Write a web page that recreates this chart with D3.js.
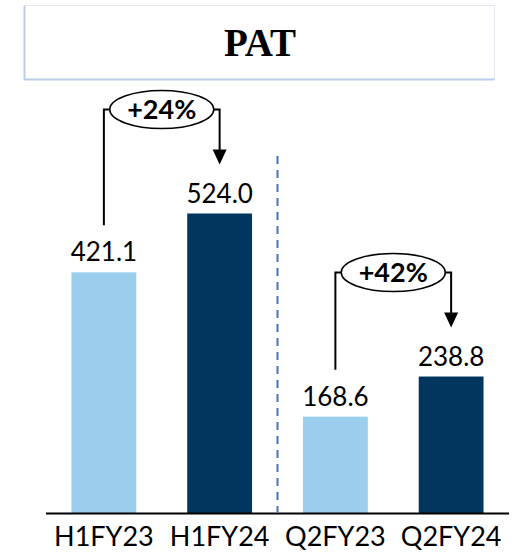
<!DOCTYPE html>
<html>
<head>
<meta charset="utf-8">
<script src="https://cdn.jsdelivr.net/npm/d3@7"></script>
<style>
  body { margin: 0; background: #fff; }
  svg { display: block; }
</style>
</head>
<body>
<div id="chart"></div>
<script>
// data
var categories = ["H1FY23", "H1FY24", "Q2FY23", "Q2FY24"];
var values = [421.1, 524.0, 168.6, 238.8];
var barColors = ["#9bcdec", "#03365e", "#9bcdec", "#03365e"];
var growth = [
    { from: 0, to: 1, label: "+24%" },
    { from: 2, to: 3, label: "+42%" }
];
var title = "PAT";

var W = 523, H = 559;
var svg = d3.select("#chart").append("svg").attr("width", W).attr("height", H);

/***************************
 * Title box
 ***************************/
svg.append("rect").attr("x", 24.5).attr("y", 5.5).attr("width", 470).attr("height", 74)
    .attr("fill", "#fff").attr("stroke", "#e3e8f1").attr("stroke-width", 1);
svg.append("path").attr("d", "M24.5,6 V79.5 H494.5").attr("fill", "none")
    .attr("stroke", "#bccbe6").attr("stroke-width", 2);
svg.append("text").attr("x", 260).attr("y", 56).attr("text-anchor", "middle")
    .style("font-family", "'Liberation Serif', 'Times New Roman', serif")
    .style("font-weight", "bold").style("font-size", "39px").attr("fill", "#000")
    .text(title);

/***************************
 * Scales
 ***************************/
var baseY = 513;
var x = d3.scaleBand().domain(categories).range([46, 509]).paddingInner(0.44).paddingOuter(0.22);
var y = d3.scaleLinear().domain([0, 524]).range([baseY, 213.5]);

// bars
svg.selectAll("rect.bar").data(values).enter().append("rect").attr("class", "bar")
    .attr("x", function(d, i) { return x(categories[i]); })
    .attr("y", function(d) { return y(d); })
    .attr("width", x.bandwidth())
    .attr("height", function(d) { return baseY - y(d); })
    .attr("fill", function(d, i) { return barColors[i]; });

// value labels
svg.selectAll("text.val").data(values).enter().append("text").attr("class", "val")
    .attr("x", function(d, i) { return x(categories[i]) + x.bandwidth() / 2; })
    .attr("y", function(d) { return y(d) - 11; })
    .attr("text-anchor", "middle")
    .style("font-family", "Lato, 'Open Sans', sans-serif").style("font-size", "26px")
    .attr("fill", "#000")
    .text(function(d) { return d.toFixed(1); });

// axis
var xAxis = d3.axisBottom(x).tickSize(0).tickPadding(14);
var gx = svg.append("g").attr("transform", "translate(0," + baseY + ")").call(xAxis);
gx.select(".domain").attr("d", "M46,0.5H509").attr("stroke", "#000").attr("stroke-width", 2);
gx.selectAll("text").style("font-family", "Lato, 'Open Sans', sans-serif")
    .style("font-size", "27px").attr("fill", "#000").attr("dy", "0.71em");

// dashed divider
var midX = (x(categories[1]) + x.bandwidth() + x(categories[2])) / 2;
svg.append("line").attr("x1", midX).attr("x2", midX).attr("y1", 156).attr("y2", baseY)
    .attr("stroke", "#4472c4").attr("stroke-width", 2).attr("stroke-dasharray", "8,6");

/***************************
 * Growth annotations
 ***************************/
growth.forEach(function(g) {
    var x1 = x(categories[g.from]) + x.bandwidth() / 2;
    var x2 = x(categories[g.to]) + x.bandwidth() / 2;
    var cx = (x1 + x2) / 2;
    var cy = y(values[g.to]) - 104;
    var rx = 52, ry = 19;
    var tipY = y(values[g.to]) - 49;
    var grp = svg.append("g");
    grp.append("path")
        .attr("d", "M" + x1 + "," + (y(values[g.from]) - 47) + "V" + cy + "H" + (cx - rx))
        .attr("fill", "none").attr("stroke", "#000").attr("stroke-width", 2);
    grp.append("path")
        .attr("d", "M" + (cx + rx) + "," + cy + "H" + x2 + "V" + (tipY - 14))
        .attr("fill", "none").attr("stroke", "#000").attr("stroke-width", 2);
    grp.append("path")
        .attr("d", "M" + (x2 - 7) + "," + (tipY - 15) + "L" + (x2 + 7) + "," + (tipY - 15) + "L" + x2 + "," + tipY + "Z")
        .attr("fill", "#000");
    grp.append("ellipse").attr("cx", cx).attr("cy", cy).attr("rx", rx).attr("ry", ry)
        .attr("fill", "#fff").attr("stroke", "#000").attr("stroke-width", 1.5);
    grp.append("text").attr("x", cx).attr("y", cy + 9).attr("text-anchor", "middle")
        .style("font-family", "Lato, 'Open Sans', sans-serif").style("font-weight", "bold")
        .style("font-size", "27px").attr("fill", "#000").text(g.label);
});
</script>
</body>
</html>
